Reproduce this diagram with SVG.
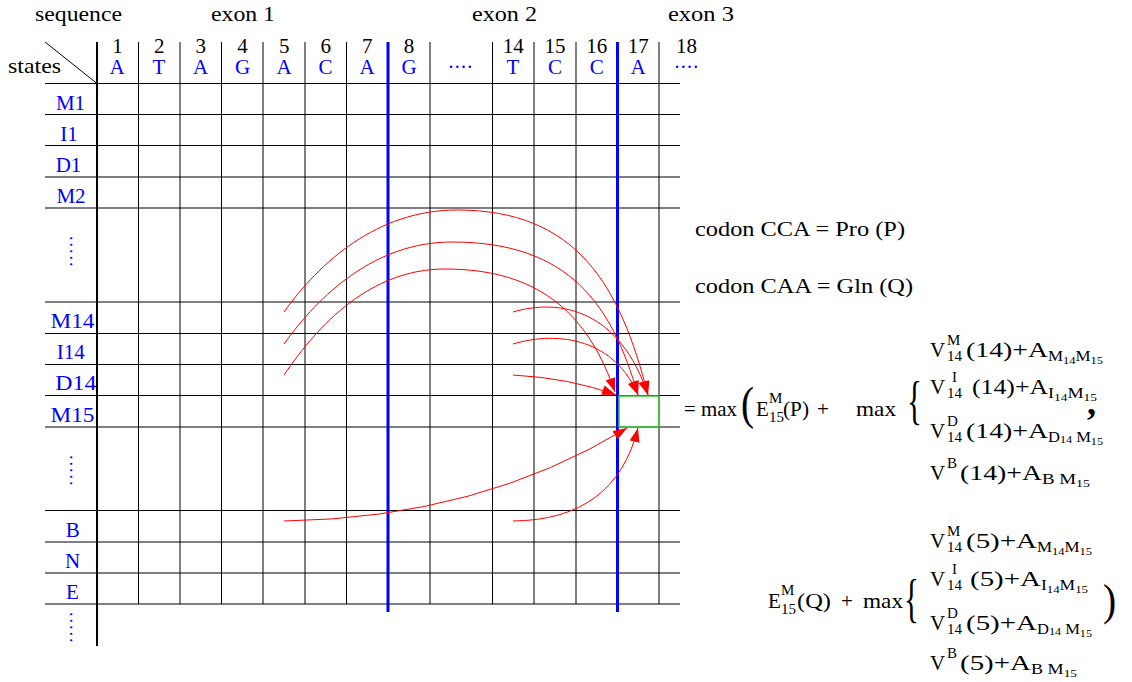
<svg xmlns="http://www.w3.org/2000/svg" width="1132" height="682" viewBox="0 0 1132 682">
<defs>
<style>
.t{font-family:"Liberation Serif","Times New Roman",serif;font-size:21px;fill:#000}
.b{fill:#0000ff}
.s{font-size:15px}
.ss{font-size:11px}
.c{text-anchor:middle}
.g{stroke:#000;stroke-width:1;fill:none}
.ex{stroke:#0000ff;stroke-width:3}
.arr{fill:none;stroke:#ff0000;stroke-width:1;marker-end:url(#ah)}
</style>
<marker id="ah" markerUnits="userSpaceOnUse" markerWidth="15" markerHeight="10" refX="14" refY="5" orient="auto">
<path d="M0,0 L14,5 L0,10 z" fill="#ff0000"/>
</marker>
</defs>
<rect width="1132" height="682" fill="#fff"/>

<g id="header">
<text class="t" x="35" y="21" textLength="87" lengthAdjust="spacingAndGlyphs">sequence</text>
<text class="t" x="211" y="21" textLength="64" lengthAdjust="spacingAndGlyphs">exon 1</text>
<text class="t" x="472" y="21" textLength="65" lengthAdjust="spacingAndGlyphs">exon 2</text>
<text class="t" x="668" y="21" textLength="66" lengthAdjust="spacingAndGlyphs">exon 3</text>
<text class="t" x="8" y="73" textLength="53" lengthAdjust="spacingAndGlyphs">states</text>
<g class="t c">
<text x="117.5" y="53">1</text><text x="159.2" y="53">2</text><text x="200.8" y="53">3</text><text x="242.5" y="53">4</text>
<text x="284.2" y="53">5</text><text x="325.8" y="53">6</text><text x="367.3" y="53">7</text><text x="409" y="53">8</text>
<text x="513.3" y="53">14</text><text x="555" y="53">15</text><text x="596.7" y="53">16</text><text x="638.3" y="53">17</text><text x="686.5" y="53">18</text>
</g>
<g class="t c b">
<text x="117" y="74">A</text><text x="159" y="74">T</text><text x="200.5" y="74">A</text><text x="242.5" y="74">G</text>
<text x="284" y="74">A</text><text x="325.5" y="74">C</text><text x="367" y="74">A</text><text x="409" y="74">G</text>
<text x="461" y="68" font-size="20" letter-spacing="1.3">....</text>
<text x="513" y="74">T</text><text x="555" y="74">C</text><text x="596.7" y="74">C</text><text x="638" y="74">A</text>
<text x="687" y="68" font-size="20" letter-spacing="1.3">....</text>
</g>
</g>

<g id="grid">
<line class="g" x1="45" y1="42" x2="97" y2="83.5"/>
<g class="g">
<line x1="45" y1="83.5" x2="680" y2="83.5"/>
<line x1="45" y1="114.5" x2="680" y2="114.5"/>
<line x1="45" y1="145.5" x2="680" y2="145.5"/>
<line x1="45" y1="177" x2="680" y2="177"/>
<line x1="45" y1="208" x2="680" y2="208"/>
<line x1="45" y1="302" x2="680" y2="302"/>
<line x1="45" y1="333.5" x2="680" y2="333.5"/>
<line x1="45" y1="364.5" x2="680" y2="364.5"/>
<line x1="45" y1="395.5" x2="680" y2="395.5"/>
<line x1="45" y1="427" x2="680" y2="427"/>
<line x1="45" y1="510.5" x2="680" y2="510.5"/>
<line x1="45" y1="542" x2="680" y2="542"/>
<line x1="45" y1="573" x2="680" y2="573"/>
<line x1="45" y1="604" x2="680" y2="604"/>
<line x1="138.5" y1="42" x2="138.5" y2="604"/>
<line x1="180" y1="42" x2="180" y2="604"/>
<line x1="221.5" y1="42" x2="221.5" y2="604"/>
<line x1="263" y1="42" x2="263" y2="604"/>
<line x1="305" y1="42" x2="305" y2="604"/>
<line x1="346.5" y1="42" x2="346.5" y2="604"/>
<line x1="430" y1="42" x2="430" y2="604"/>
<line x1="492.5" y1="42" x2="492.5" y2="604"/>
<line x1="534" y1="42" x2="534" y2="604"/>
<line x1="576" y1="42" x2="576" y2="604"/>
<line x1="659" y1="42" x2="659" y2="604"/>
</g>
<line x1="97" y1="42" x2="97" y2="646" stroke="#000" stroke-width="2"/>
<line class="ex" x1="388" y1="42" x2="388" y2="612"/>
<line class="ex" x1="617.5" y1="42" x2="617.5" y2="612"/>
</g>

<g id="row-labels" class="t c b">
<text x="70.5" y="110">M1</text>
<text x="69" y="141">I1</text>
<text x="68.5" y="172">D1</text>
<text x="71" y="203">M2</text>
<text transform="translate(70,236) rotate(90)" font-size="18" letter-spacing="2" style="text-anchor:start">.....</text>
<text x="72.5" y="328" textLength="44" lengthAdjust="spacingAndGlyphs">M14</text>
<text x="70.7" y="359">I14</text>
<text x="75.8" y="390" textLength="41" lengthAdjust="spacingAndGlyphs">D14</text>
<text x="72.5" y="422" textLength="44" lengthAdjust="spacingAndGlyphs">M15</text>
<text transform="translate(70,455) rotate(90)" font-size="18" letter-spacing="2" style="text-anchor:start">.....</text>
<text x="72.7" y="537">B</text>
<text x="72.5" y="568">N</text>
<text x="72.5" y="599">E</text>
<text transform="translate(70,612) rotate(90)" font-size="18" letter-spacing="2" style="text-anchor:start">.....</text>
</g>

<g id="cell-M15-17">
<rect x="619" y="396" width="40" height="31" fill="none" stroke="#33cc33" stroke-width="1.5"/>
</g>

<g id="connectors">
<path class="arr" d="M284,312 C319,263 377,210 457,210 C577,210 620,285 648,395"/>
<path class="arr" d="M284,344 C319,295 375,242 452,242 C570,242 612,305 638,395"/>
<path class="arr" d="M284,375 C318,325 370,269 445,269 C545,269 590,320 615,392"/>
<path class="arr" d="M513,312 C560,298 620,310 648,395"/>
<path class="arr" d="M513,344 C560,330 615,340 638,395"/>
<path class="arr" d="M513,375 Q570,378 616,395"/>
<path class="arr" d="M284,521 Q480,518 627,428"/>
<path class="arr" d="M513,521 Q615,520 638,428"/>
</g>

<g id="codon-notes" class="t">
<text x="695" y="236" textLength="210" lengthAdjust="spacingAndGlyphs">codon CCA = Pro (P)</text>
<text x="695" y="293" textLength="218" lengthAdjust="spacingAndGlyphs">codon CAA = Gln (Q)</text>
</g>

<g id="formula-P" class="t">
<text x="684" y="416" textLength="53" lengthAdjust="spacingAndGlyphs">= max</text>
<text transform="matrix(0.85 0 0 1 741 419)" font-size="46">(</text>
<text x="756" y="416">E</text>
<text class="s" x="769" y="403">M</text>
<text class="s" x="769" y="422">15</text>
<text x="783" y="416" textLength="26" lengthAdjust="spacingAndGlyphs">(P)</text>
<text x="817" y="416">+</text>
<text x="856" y="416" textLength="40" lengthAdjust="spacingAndGlyphs">max</text>
<text transform="matrix(0.6 0 0 1 907 418)" font-size="52">{</text>

<text x="930" y="357">V</text>
<text class="s" x="947" y="345">M</text>
<text class="s" x="947" y="361">14</text>
<text x="966" y="357" textLength="82" lengthAdjust="spacingAndGlyphs">(14)+A</text>
<text class="s" x="1048" y="361" textLength="55" lengthAdjust="spacingAndGlyphs">M<tspan class="ss" dy="3">14</tspan><tspan dy="-3">M</tspan><tspan class="ss" dy="3">15</tspan></text>

<text x="930" y="394">V</text>
<text class="s" x="952" y="382">I</text>
<text class="s" x="947" y="398">14</text>
<text x="972" y="394" textLength="76" lengthAdjust="spacingAndGlyphs">(14)+A</text>
<text class="s" x="1048" y="398" textLength="49" lengthAdjust="spacingAndGlyphs">I<tspan class="ss" dy="3">14</tspan><tspan dy="-3">M</tspan><tspan class="ss" dy="3">15</tspan></text>

<text x="930" y="438">V</text>
<text class="s" x="947" y="426">D</text>
<text class="s" x="947" y="442">14</text>
<text x="966" y="438" textLength="82" lengthAdjust="spacingAndGlyphs">(14)+A</text>
<text class="s" x="1048" y="442" textLength="55" lengthAdjust="spacingAndGlyphs">D<tspan class="ss" dy="1">14</tspan><tspan dy="-1"> M</tspan><tspan class="ss" dy="3">15</tspan></text>

<text x="930" y="480">V</text>
<text class="s" x="947" y="468">B</text>
<text x="960" y="480" textLength="82" lengthAdjust="spacingAndGlyphs">(14)+A</text>
<text class="s" x="1042" y="484" textLength="48" lengthAdjust="spacingAndGlyphs">B M<tspan class="ss" dy="3">15</tspan></text>

<text x="1087" y="414" font-size="36" font-weight="bold">,</text>
</g>

<g id="formula-Q" class="t">
<text x="768" y="608">E</text>
<text class="s" x="781" y="595">M</text>
<text class="s" x="781" y="614">15</text>
<text x="797" y="608" textLength="34" lengthAdjust="spacingAndGlyphs">(Q)</text>
<text x="841" y="608">+</text>
<text x="863" y="608" textLength="40" lengthAdjust="spacingAndGlyphs">max</text>
<text transform="matrix(0.6 0 0 1 904 616)" font-size="52">{</text>

<text x="930" y="548">V</text>
<text class="s" x="947" y="536">M</text>
<text class="s" x="947" y="552">14</text>
<text x="966" y="548" textLength="71" lengthAdjust="spacingAndGlyphs">(5)+A</text>
<text class="s" x="1037" y="552" textLength="55" lengthAdjust="spacingAndGlyphs">M<tspan class="ss" dy="3">14</tspan><tspan dy="-3">M</tspan><tspan class="ss" dy="3">15</tspan></text>

<text x="930" y="586">V</text>
<text class="s" x="952" y="574">I</text>
<text class="s" x="947" y="590">14</text>
<text x="970" y="586" textLength="71" lengthAdjust="spacingAndGlyphs">(5)+A</text>
<text class="s" x="1041" y="590" textLength="47" lengthAdjust="spacingAndGlyphs">I<tspan class="ss" dy="3">14</tspan><tspan dy="-3">M</tspan><tspan class="ss" dy="3">15</tspan></text>

<text x="930" y="630">V</text>
<text class="s" x="947" y="618">D</text>
<text class="s" x="947" y="634">14</text>
<text x="966" y="630" textLength="71" lengthAdjust="spacingAndGlyphs">(5)+A</text>
<text class="s" x="1037" y="634" textLength="55" lengthAdjust="spacingAndGlyphs">D<tspan class="ss" dy="1">14</tspan><tspan dy="-1"> M</tspan><tspan class="ss" dy="3">15</tspan></text>

<text x="930" y="670">V</text>
<text class="s" x="947" y="658">B</text>
<text x="960" y="670" textLength="71" lengthAdjust="spacingAndGlyphs">(5)+A</text>
<text class="s" x="1031" y="674" textLength="46" lengthAdjust="spacingAndGlyphs">B M<tspan class="ss" dy="3">15</tspan></text>

<text transform="matrix(0.9 0 0 1 1103 615)" font-size="44">)</text>
</g>
</svg>
